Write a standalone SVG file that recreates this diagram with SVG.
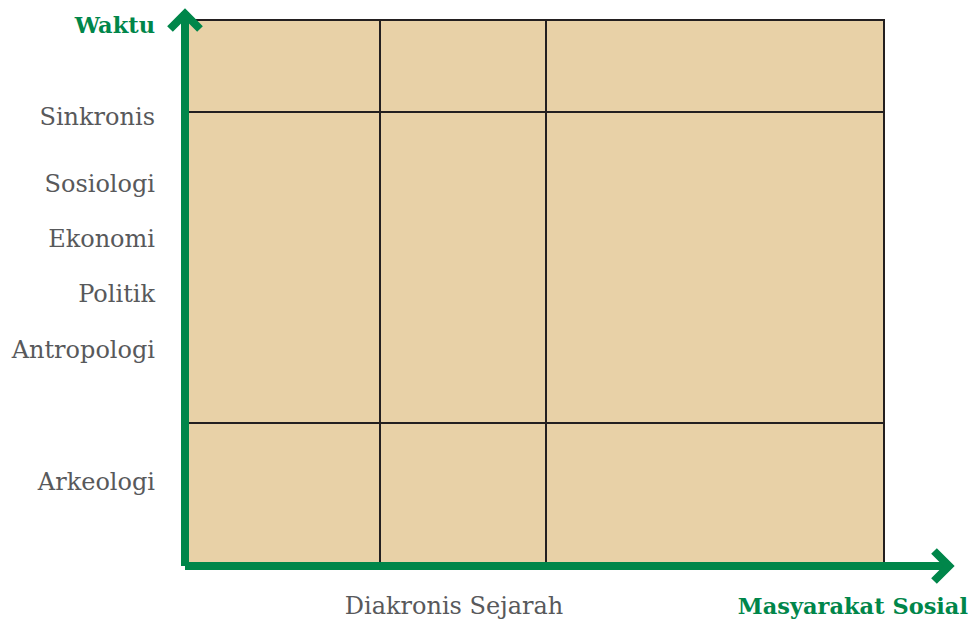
<svg xmlns="http://www.w3.org/2000/svg" width="974" height="621" viewBox="0 0 974 621">
<style>
.lbl{font-family:"DejaVu Serif","Liberation Serif",serif;font-size:24px;fill:#58595B}
.ax{font-family:"DejaVu Serif","Liberation Serif",serif;font-size:22.5px;font-weight:bold;fill:#00864A}
.grid{stroke:#231F20;stroke-width:2;fill:none}
.axis{stroke:#00864A;stroke-width:8;fill:none}
</style>
<rect width="974" height="621" fill="#fff"/>
<g id="chart">
<rect x="185" y="20" width="699" height="546" fill="#E8D1A7"/>
</g>
<g id="connectors">
<path class="grid" d="M185 20H884V566M185 112H884M185 423H884M380 20V566M546 20V566"/>
<path class="axis" d="M185 566V12M185 566H948"/>
<path class="axis" d="M170 29L185 14L200 29"/>
<path class="axis" d="M934 551L949 566L934 581"/>
</g>
<g id="labels">
<text class="lbl" x="155" y="125" text-anchor="end">Sinkronis</text>
<text class="lbl" x="155" y="192" text-anchor="end">Sosiologi</text>
<text class="lbl" x="155" y="247" text-anchor="end">Ekonomi</text>
<text class="lbl" x="155" y="302" text-anchor="end">Politik</text>
<text class="lbl" x="155" y="358" text-anchor="end">Antropologi</text>
<text class="lbl" x="155" y="490" text-anchor="end">Arkeologi</text>
<text class="lbl" x="454" y="614" text-anchor="middle" font-size="23.5">Diakronis Sejarah</text>
<text class="ax" x="155" y="33" text-anchor="end">Waktu</text>
<text class="ax" x="968" y="614" text-anchor="end">Masyarakat Sosial</text>
</g>
</svg>
